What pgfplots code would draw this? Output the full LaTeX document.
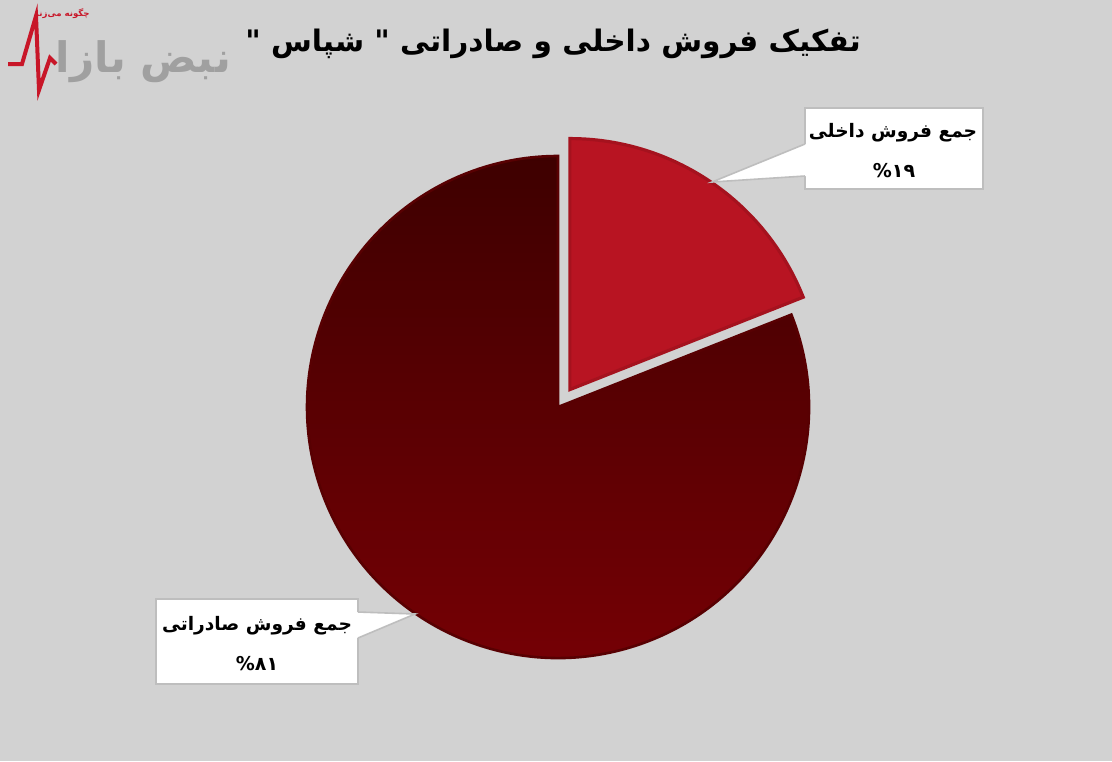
\documentclass[border=0pt]{standalone}
\usepackage{pgfplots}
\pgfplotsset{compat=1.18}
\usepackage{pgfplotstable}
\usepackage{fontspec}
\setmainfont{DejaVu Sans}
\newfontfamily\fa[Script=Arabic]{DejaVu Sans}
\TeXXeTstate=1

\definecolor{bgc}{RGB}{210,210,210}
\definecolor{domred}{RGB}{184,20,34}
\definecolor{domedge}{RGB}{165,18,30}
\definecolor{exptop}{RGB}{62,0,0}
\definecolor{expbot}{RGB}{120,0,5}
\definecolor{expedge}{RGB}{88,0,2}
\definecolor{boxgray}{RGB}{190,190,190}
\definecolor{logored}{RGB}{200,22,40}
\definecolor{logogray}{RGB}{160,160,160}

% share of sales, percent
\pgfplotstableread{
part value
domestic 19
export 81
}\pietab

\begin{document}
\begin{tikzpicture}
\pgfplotstablegetelem{0}{value}\of\pietab \pgfmathsetmacro\va{\pgfplotsretval}
\pgfplotstablegetelem{1}{value}\of\pietab \pgfmathsetmacro\vb{\pgfplotsretval}
\pgfmathsetmacro\ea{90-\va/(\va+\vb)*360}
\pgfmathsetmacro\mid{90-\va/(\va+\vb)*180}
\pgfmathsetmacro\ox{0.084*cos(\mid)}
\pgfmathsetmacro\oy{0.084*sin(\mid)}

\begin{scope}[x=0.5pt,y=-0.5pt]
  \fill[bgc] (0,0) rectangle (1112,761);
\end{scope}

\begin{axis}[at={(279pt,-203.5pt)}, anchor=center, scale only axis,
  width=251pt, height=251pt, xmin=-1, xmax=1, ymin=-1, ymax=1,
  hide axis, clip=false]
  % export slice
  \path[top color=exptop, bottom color=expbot, draw=expedge, line width=1.3pt]
    (axis cs:0,0) -- (axis cs:{cos(\ea)},{sin(\ea)})
    arc[start angle=\ea, end angle=-270, radius=125.5pt] -- cycle;
  % domestic slice, pulled out
  \filldraw[fill=domred, draw=domedge, line width=1.6pt]
    (axis cs:\ox,\oy) -- (axis cs:{\ox},{\oy+1})
    arc[start angle=90, end angle=\ea, radius=125.5pt] -- cycle;
\end{axis}

\begin{scope}[x=0.5pt,y=-0.5pt]
  % title
  \node[font=\fa\bfseries\fontsize{14.8}{18}\selectfont] at (553,44)
    {\beginR تفکیک فروش داخلی و صادراتی " شپاس "\endR};

  % callout domestic
  \draw[boxgray, fill=white, line width=0.8pt] (805,108) rectangle (983,189);
  \fill[white] (806,144) -- (712,182) -- (806,176) -- cycle;
  \draw[boxgray, line width=0.8pt] (805,144) -- (712,182) -- (805,176);
  \node[font=\fa\bfseries\fontsize{9.3}{11}\selectfont] at (893,133)
    {\beginR جمع فروش داخلی\endR};
  \node[font=\fa\bfseries\fontsize{9.5}{11}\selectfont] at (894,171)
    {\%۱۹};

  % callout export
  \draw[boxgray, fill=white, line width=0.8pt] (156,599) rectangle (358,684);
  \fill[white] (357,612) -- (415,614) -- (357,638) -- cycle;
  \draw[boxgray, line width=0.8pt] (358,612) -- (415,614) -- (358,638);
  \node[font=\fa\bfseries\fontsize{9.3}{11}\selectfont] at (257,626)
    {\beginR جمع فروش صادراتی\endR};
  \node[font=\fa\bfseries\fontsize{9.5}{11}\selectfont] at (257,664)
    {\%۸۱};

  % logo
  \draw[logored, line width=2pt, line join=miter] (8,64) -- (22,64) -- (36,16) -- (39,90) -- (50,58) -- (56,64);
  \node[font=\fa\bfseries\fontsize{21}{24}\selectfont, text=logogray, anchor=east] at (238,62)
    {\beginR نبض بازا\endR};
  \node[font=\fa\bfseries\fontsize{4.3}{5}\selectfont, text=logored] at (62,14)
    {\beginR چگونه می‌زند\endR};
\end{scope}
\end{tikzpicture}
\end{document}
